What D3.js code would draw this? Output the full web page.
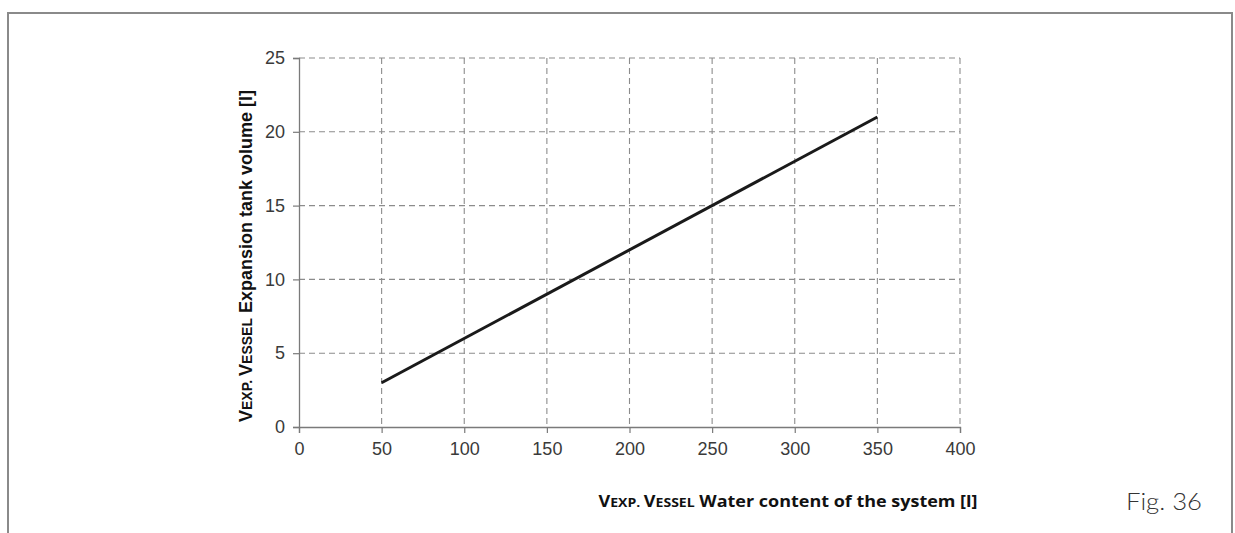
<!DOCTYPE html>
<html>
<head>
<meta charset="utf-8">
<script src="https://cdn.jsdelivr.net/npm/d3@7"></script>
<style>
  html, body { margin: 0; padding: 0; background: #fff; }
  svg { display: block; }
</style>
</head>
<body>
<svg id="chart" width="1235" height="533"></svg>
<script>
// Data
const waterContent = [50, 350];      // x values [l]
const tankVolume = [3, 21];          // y values [l]
const xTicks = [0, 50, 100, 150, 200, 250, 300, 350, 400];
const yTicks = [0, 5, 10, 15, 20, 25];
const xDomain = [0, 400];
const yDomain = [0, 25];

const svg = d3.select("#chart");

// outer frame (top, left, right; open at bottom)
svg.append("path")
  .attr("d", "M8,533 L8,13 L1232,13 L1232,533")
  .attr("fill", "none").attr("stroke", "#8a8a8a").attr("stroke-width", 2);

const x = d3.scaleLinear().domain(xDomain).range([299, 960]);
const y = d3.scaleLinear().domain(yDomain).range([427, 58]);

const grid = svg.append("g");
grid.selectAll("line.v").data(xTicks.filter(d => d > 0)).join("line")
  .attr("x1", d => x(d)).attr("x2", d => x(d))
  .attr("y1", y(25)).attr("y2", y(0))
  .attr("stroke", "#8c8c8c").attr("stroke-width", 1.1)
  .attr("stroke-dasharray", "6,4");
grid.selectAll("line.h").data(yTicks.filter(d => d > 0)).join("line")
  .attr("x1", x(0)).attr("x2", x(400))
  .attr("y1", d => y(d)).attr("y2", d => y(d))
  .attr("stroke", "#8c8c8c").attr("stroke-width", 1.1)
  .attr("stroke-dasharray", "6,4");

// axes
const xAxis = svg.append("g").attr("transform", `translate(0,${y(0)})`)
  .call(d3.axisBottom(x).tickValues(xTicks).tickSize(6).tickPadding(9).tickFormat(d3.format("d")));
const yAxis = svg.append("g").attr("transform", `translate(${x(0)},0)`)
  .call(d3.axisLeft(y).tickValues(yTicks).tickSize(6).tickPadding(8).tickFormat(d3.format("d")));

[xAxis, yAxis].forEach(a => {
  a.attr("font-size", null).attr("font-family", null);
  a.select(".domain").attr("stroke", "#7a7a7a").attr("stroke-width", 1.3);
  a.selectAll(".tick line").attr("stroke", "#7a7a7a").attr("stroke-width", 1.2);
  a.selectAll(".tick text")
    .style("font-family", "'Liberation Sans', Arial, sans-serif")
    .style("font-size", "18px").attr("fill", "#3a3a3a");
});

// data line
svg.append("path")
  .datum(waterContent.map((d, i) => [d, tankVolume[i]]))
  .attr("d", d3.line().x(d => x(d[0])).y(d => y(d[1])))
  .attr("fill", "none").attr("stroke", "#1a1a1a").attr("stroke-width", 3);

// y-axis title (rotated, small caps prefix)
const yt = svg.append("text")
  .attr("transform", "translate(252,256) rotate(-90)")
  .attr("text-anchor", "middle")
  .attr("textLength", 332).attr("lengthAdjust", "spacingAndGlyphs")
  .style("font-family", "'Liberation Sans', Arial, sans-serif")
  .style("font-weight", "bold").style("font-size", "18px").attr("fill", "#111");
yt.append("tspan").text("V");
yt.append("tspan").style("font-size", "14px").text("EXP. ");
yt.append("tspan").text("V");
yt.append("tspan").style("font-size", "14px").text("ESSEL");
yt.append("tspan").text(" Expansion tank volume [l]");

// x-axis title
const xt = svg.append("text")
  .attr("x", 788).attr("y", 507)
  .attr("text-anchor", "middle")
  .attr("textLength", 379).attr("lengthAdjust", "spacingAndGlyphs")
  .style("font-family", "'Open Sans', Lato, sans-serif")
  .style("font-weight", "bold").style("font-size", "16px").attr("fill", "#111");
xt.append("tspan").text("V");
xt.append("tspan").style("font-size", "12.5px").text("EXP. ");
xt.append("tspan").text("V");
xt.append("tspan").style("font-size", "12.5px").text("ESSEL");
xt.append("tspan").text(" Water content of the system [l]");

// figure label
svg.append("text")
  .attr("x", 1202).attr("y", 510)
  .attr("text-anchor", "end")
  .attr("textLength", 76).attr("lengthAdjust", "spacingAndGlyphs")
  .style("font-family", "Lato, 'Open Sans', sans-serif")
  .style("font-weight", 300).style("font-size", "24px").attr("fill", "#333")
  .text("Fig. 36");
</script>
</body>
</html>
